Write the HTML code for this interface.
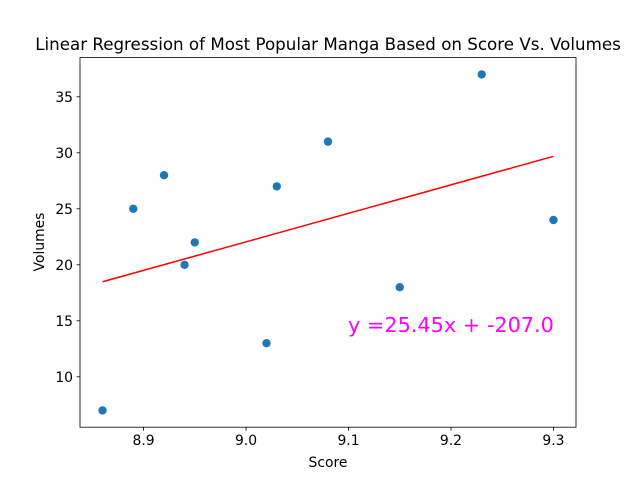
<!DOCTYPE html>
<html><head><meta charset="utf-8"><style>
body{margin:0;background:#fff}
svg{font-family:"DejaVu Sans","Liberation Sans",sans-serif}
</style></head><body>
<svg id="chart" width="640" height="480" viewBox="0 0 640 480">
<rect width="640" height="480" fill="#fff"/>
<text x="328" y="50" text-anchor="middle" font-size="16.7">Linear Regression of Most Popular Manga Based on Score Vs. Volumes</text>
<g id="grid"></g>
<g id="marks"></g>
<rect x="80" y="57.6" width="496" height="369.6" fill="none" stroke="#000" stroke-width="0.8"/>
<text x="328" y="467" text-anchor="middle" font-size="13.9">Score</text>
<text transform="translate(44,242) rotate(-90)" text-anchor="middle" font-size="13.9">Volumes</text>
<text x="348" y="332" font-size="20.8" fill="#ff00ff">y =25.45x + -207.0</text>
</svg>
<script>
const scores=[8.86,8.89,8.92,8.94,8.95,9.02,9.03,9.08,9.15,9.23,9.30];
const volumes=[7,25,28,20,22,13,27,31,18,37,24];
const slope=25.45, intercept=-207.0;
const xTicks=[8.9,9.0,9.1,9.2,9.3];
const yTicks=[10,15,20,25,30,35];
const L=80,R=576,T=57.6,B=427.2;
const xmin=8.838,xmax=9.322,ymin=5.5,ymax=38.5;
const sx=v=>L+(v-xmin)/(xmax-xmin)*(R-L);
const sy=v=>B-(v-ymin)/(ymax-ymin)*(B-T);
const NS="http://www.w3.org/2000/svg";
const g=document.getElementById('grid'),m=document.getElementById('marks');
function mk(t,a,p){const e=document.createElementNS(NS,t);for(const k in a)e.setAttribute(k,a[k]);p.appendChild(e);return e;}
xTicks.forEach(v=>{
 const l=mk('line',{x1:sx(v),x2:sx(v),y1:B,y2:B+3.5,stroke:'#000','stroke-width':0.8},g);
 
 
 const t=mk('text',{x:sx(v),y:B+18,'text-anchor':'middle','font-size':13.9},g);t.textContent=v.toFixed(1);
 
 
});
yTicks.forEach(v=>{
 const l=mk('line',{x1:L-3.5,x2:L,y1:sy(v),y2:sy(v),stroke:'#000','stroke-width':0.8},g);
 
 
 const t=mk('text',{x:L-7,y:sy(v)+5,'text-anchor':'end','font-size':13.9},g);t.textContent=v;
 
 
});
scores.forEach((s,i)=>{
 const c=mk('circle',{cx:sx(s),cy:sy(volumes[i]),r:4.2,fill:'#1f77b4'},m);
 
 
});
const x0=Math.min(...scores),x1=Math.max(...scores);
const ln=mk('line',{x1:sx(x0),y1:sy(slope*x0+intercept),x2:sx(x1),y2:sy(slope*x1+intercept),stroke:'#ff0000','stroke-width':1.5},m);


</script>
</body></html>
